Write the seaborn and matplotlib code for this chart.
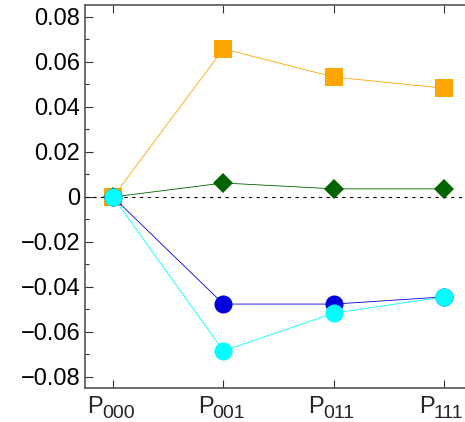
import matplotlib
matplotlib.use("Agg")
import matplotlib.pyplot as plt
import seaborn as sns
import pandas as pd
import numpy as np
from matplotlib.ticker import MultipleLocator

sns.set_theme(style="ticks")
plt.rcParams['font.family'] = ['Liberation Sans', 'DejaVu Sans']

categories = ["000", "001", "011", "111"]
orange_vals = [0.0, 0.0658, 0.0533, 0.0483]
green_vals = [0.0, 0.0062, 0.0036, 0.0036]
blue_vals = [0.0, -0.0476, -0.0476, -0.0444]
cyan_vals = [0.0, -0.0684, -0.0516, -0.0444]
ytick_vals = [-0.08, -0.06, -0.04, -0.02, 0.0, 0.02, 0.04, 0.06, 0.08]
ytick_labels = ["\u22120.08", "\u22120.06", "\u22120.04", "\u22120.02", "0", "0.02", "0.04", "0.06", "0.08"]

series = [
    ("orange", orange_vals, "orange", "s", 13),
    ("green", green_vals, "darkgreen", "D", 10),
    ("blue", blue_vals, "#0000dd", "o", 13),
    ("cyan", cyan_vals, "cyan", "o", 13),
]

rows = []
for name, vals, *_ in series:
    for i, v in enumerate(vals):
        rows.append({"series": name, "x": i, "y": v})
df = pd.DataFrame(rows)

fig = plt.figure(figsize=(4.65, 4.22), dpi=100)
px_per_unit = (444.3 - 113) / 3.0
right_px = 530
ax = fig.add_axes([85/465, 1 - 388/422, (right_px - 85)/465, (388 - 5)/422])

ax.axhline(0, color="black", lw=0.8, ls=(0, (3, 4)), zorder=1)

for k, (name, vals, color, marker, ms) in enumerate(series):
    sub = df[df["series"] == name]
    sns.lineplot(data=sub, x="x", y="y", ax=ax, color=color, lw=0.6,
                 marker=marker, markersize=ms, markeredgewidth=0,
                 markerfacecolor=color, zorder=3 + k, legend=False)

x0 = -(113 - 85) / px_per_unit
ax.set_xlim(x0, x0 + (right_px - 85) / px_per_unit)
ax.set_ylim(-0.0849, 0.0853)
ax.set_xticks(range(4))
ax.set_xticklabels([""] * 4)
ax.set_yticks(ytick_vals)
ax.set_yticklabels(ytick_labels)
ax.yaxis.set_minor_locator(MultipleLocator(0.01))
ax.set_xlabel("")
ax.set_ylabel("")
ax.tick_params(axis="both", which="both", direction="in", top=True, right=True,
               labelsize=17, colors="#333333", labelcolor="black")
ax.tick_params(axis="both", which="major", length=6, width=0.8)
ax.tick_params(axis="y", which="minor", length=3, width=0.8)
for s in ax.spines.values():
    s.set_color("#555555")
    s.set_linewidth(1.2)

# x tick labels: "P" with enlarged subscript
xtr = ax.get_xaxis_transform()
for i, sub in enumerate(categories):
    ax.annotate("P", xy=(i, 0), xycoords=xtr, xytext=(-10, -25),
                textcoords="offset pixels", ha="right", va="baseline",
                fontsize=17, annotation_clip=False)
    ax.annotate(sub, xy=(i, 0), xycoords=xtr, xytext=(-11, -30),
                textcoords="offset pixels", ha="left", va="baseline",
                fontsize=14, annotation_clip=False)

fig.savefig("out.png", dpi=100)
